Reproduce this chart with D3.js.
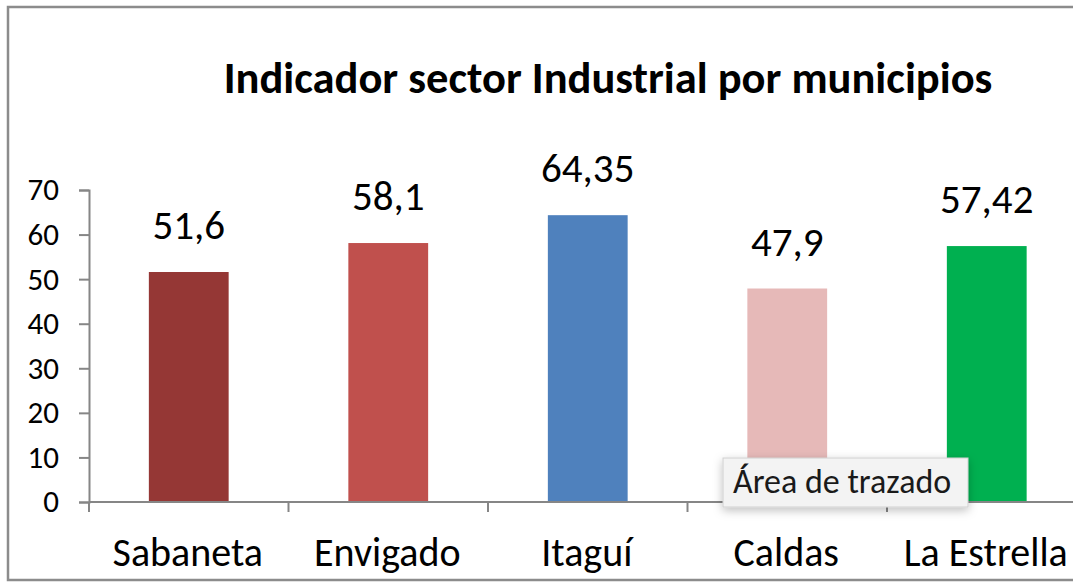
<!DOCTYPE html>
<html>
<head>
<meta charset="utf-8">
<script src="https://cdn.jsdelivr.net/npm/d3@7"></script>
<style>
  html, body { margin: 0; padding: 0; background: #fff; overflow: hidden; }
  svg text { font-family: Carlito, Lato, "Open Sans", sans-serif; }
</style>
</head>
<body>
<div id="chart"></div>
<script>
// Indicador sector Industrial por municipios - bar chart

const municipios = ["Sabaneta", "Envigado", "Itaguí", "Caldas", "La Estrella"];
const valores = [51.6, 58.1, 64.35, 47.9, 57.42];
const etiquetas = ["51,6", "58,1", "64,35", "47,9", "57,42"];
const colores = ["#953735", "#C0504D", "#4F81BD", "#E6B9B8", "#00B050"];
const yTicks = [0, 10, 20, 30, 40, 50, 60, 70];

const width = 1073, height = 583;

const svg = d3.select("#chart").append("svg")
    .attr("width", width)
    .attr("height", height);

// outer chart frame (right side is cut off)
svg.append("path")
    .attr("d", "M1100,7 H8 V580 H1100")
    .attr("fill", "none")
    .attr("stroke", "#8c8c8c")
    .attr("stroke-width", 2.5);

// scales
const x = d3.scaleBand()
    .domain(municipios)
    .range([89, 89 + 5 * 199.5])
    .paddingInner(0.6)
    .paddingOuter(0.3);

const y = d3.scaleLinear()
    .domain([0, 70])
    .range([502, 190]);

// title
svg.append("text")
    .attr("x", 608)
    .attr("y", 93)
    .attr("text-anchor", "middle")
    .attr("font-weight", "bold")
    .attr("font-size", 44.5)
    .attr("fill", "#000")
    .text("Indicador sector Industrial por municipios");

// bars
svg.selectAll("rect.bar")
    .data(valores)
    .enter().append("rect")
    .attr("class", "bar")
    .attr("x", (d, i) => x(municipios[i]))
    .attr("y", d => y(d))
    .attr("width", x.bandwidth())
    .attr("height", d => y(0) - y(d))
    .attr("fill", (d, i) => colores[i]);

// value labels
svg.selectAll("text.val")
    .data(valores)
    .enter().append("text")
    .attr("class", "val")
    .attr("x", (d, i) => x(municipios[i]) + x.bandwidth() / 2)
    .attr("y", d => y(d) - 33)
    .attr("text-anchor", "middle")
    .attr("font-size", 41)
    .attr("fill", "#000")
    .text((d, i) => etiquetas[i]);

// y axis
const yAxis = svg.append("g")
    .attr("transform", "translate(89,0)")
    .call(d3.axisLeft(y).tickValues(yTicks).tickSize(10).tickPadding(20));
yAxis.select(".domain").attr("stroke", "#868686").attr("stroke-width", 2);
yAxis.selectAll(".tick line").attr("stroke", "#868686").attr("stroke-width", 2);
yAxis.selectAll(".tick text")
    .attr("font-size", 31)
    .attr("fill", "#000")
    .attr("font-family", "Carlito, Lato, sans-serif");

// x axis line + category separators
const xAxis = svg.append("g").attr("transform", "translate(0,502)");
xAxis.append("line")
    .attr("x1", 89).attr("x2", 1100)
    .attr("stroke", "#868686").attr("stroke-width", 2);
xAxis.selectAll("line.sep")
    .data(municipios)
    .enter().append("line")
    .attr("class", "sep")
    .attr("x1", d => x(d) - x.step() * 0.3)
    .attr("x2", d => x(d) - x.step() * 0.3)
    .attr("y1", 0).attr("y2", 10)
    .attr("stroke", "#868686").attr("stroke-width", 2);

svg.selectAll("text.cat")
    .data(municipios)
    .enter().append("text")
    .attr("class", "cat")
    .attr("x", d => x(d) + x.bandwidth() / 2 - 1)
    .attr("y", 566)
    .attr("text-anchor", "middle")
    .attr("font-size", 40)
    .attr("fill", "#000")
    .text(d => d);

// tooltip "Área de trazado"
const defs = svg.append("defs");
const f = defs.append("filter").attr("id", "shadow")
    .attr("x", "-20%").attr("y", "-30%").attr("width", "140%").attr("height", "180%");
f.append("feDropShadow")
    .attr("dx", 0).attr("dy", 3).attr("stdDeviation", 5)
    .attr("flood-color", "#000").attr("flood-opacity", 0.25);

const tip = svg.append("g");
tip.append("rect")
    .attr("x", 723).attr("y", 458)
    .attr("width", 245).attr("height", 49)
    .attr("fill", "#f3f3f3")
    .attr("stroke", "#d0d0d0")
    .attr("stroke-width", 1)
    .attr("filter", "url(#shadow)");
tip.append("text")
    .attr("x", 733).attr("y", 493)
    .attr("font-size", 34)
    .attr("fill", "#1a1a1a")
    .text("Área de trazado");
</script>
</body>
</html>
